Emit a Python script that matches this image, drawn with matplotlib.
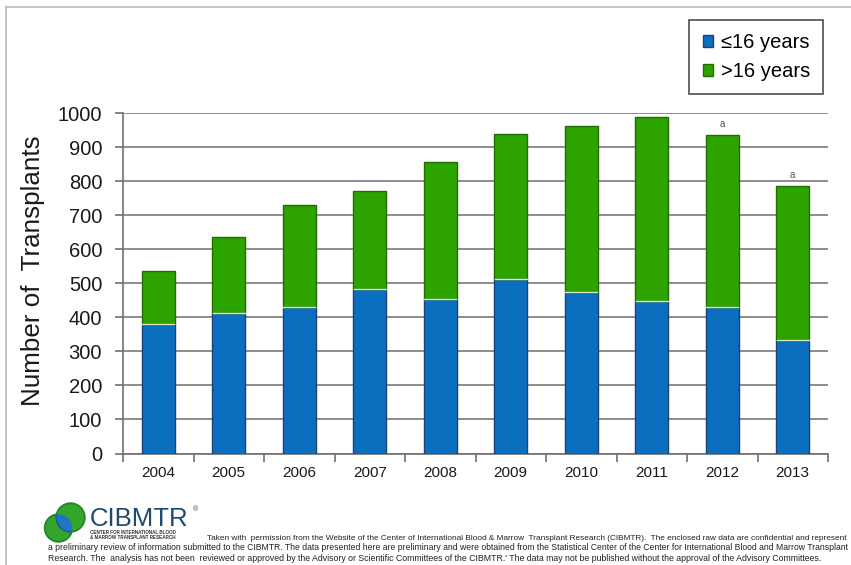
import numpy as np
import matplotlib
matplotlib.use("Agg")
from matplotlib import pyplot as plt
from matplotlib.patches import Patch, Circle
from matplotlib.lines import Line2D

plt.rcParams['font.family'] = ['Liberation Sans', 'DejaVu Sans']

years = ['2004', '2005', '2006', '2007', '2008', '2009', '2010', '2011', '2012', '2013']
young = [380, 414, 430, 484, 454, 513, 474, 448, 431, 335]
totals = [537, 637, 731, 773, 857, 940, 963, 990, 937, 785]
older = [t - y for t, y in zip(totals, young)]
notes = ['', '', '', '', '', '', '', '', 'a', 'a']

blue = '#0B6FBF'
green = '#2DA300'

W, H = 851, 565
fig = plt.figure(figsize=(W / 100, H / 100), dpi=100)
ax = fig.add_axes([123 / W, 1 - 453.5 / H, (828 - 123) / W, (453.5 - 113.3) / H])

x = np.arange(len(years))
ax.bar(x, young, width=0.47, color=blue, edgecolor='#1D3F7A', linewidth=1.0, zorder=3)
ax.bar(x, older, bottom=young, width=0.47, color=green, edgecolor='#1E6E00', linewidth=1.0, zorder=3)
# light seam between segments
for xi, yv in zip(x, young):
    ax.plot([xi - 0.225, xi + 0.225], [yv, yv], color='#D8E8C8', lw=1.0, zorder=4)
for xi, t, n in zip(x, totals, notes):
    if n:
        ax.text(xi, t + 18, n, ha='center', va='bottom', fontsize=7, color='#555555')

ax.set_xlim(-0.5, len(years) - 0.5)
ax.set_ylim(0, 1000)
ax.set_yticks(np.arange(0, 1001, 100))
ax.set_yticklabels([str(v) for v in range(0, 1001, 100)], fontsize=14.5, color='#1a1a1a')
ax.set_xticks(x)
ax.set_xticklabels(years, fontsize=11, color='#1a1a1a')
ax.set_xticks(np.arange(-0.5, len(years), 1), minor=True)
ax.tick_params(axis='x', which='major', length=0, pad=9)
ax.tick_params(axis='x', which='minor', length=6, width=1.2, color='#707070', direction='out')
ax.tick_params(axis='y', length=6, width=1.2, color='#707070', pad=9)
ax.yaxis.grid(True, color='#7a7a7a', linewidth=1.2, zorder=0)
ax.set_axisbelow(True)
for s in ['top', 'right']:
    ax.spines[s].set_visible(False)
for s in ['left', 'bottom']:
    ax.spines[s].set_color('#707070')
    ax.spines[s].set_linewidth(1.2)
ax.set_ylabel('Number of  Transplants', fontsize=18.7, color='#1a1a1a')
ax.yaxis.set_label_coords((45 - 123) / 705, (453.5 - 271) / 340.2)

handles = [Patch(facecolor=blue, edgecolor='#1D3F7A'), Patch(facecolor=green, edgecolor='#1E6E00')]
leg = fig.legend(handles, ['≤16 years', '>16 years'], loc='upper right',
                 bbox_to_anchor=(823 / W, 1 - 20 / H), fontsize=14.5, frameon=True,
                 fancybox=False, handlelength=0.5, handleheight=0.5, handletextpad=0.4,
                 labelspacing=0.5, borderpad=0.65, borderaxespad=0)
leg.get_frame().set_edgecolor('#222222')
leg.get_frame().set_linewidth(1.2)

# slide frame lines
fig.add_artist(Line2D([6 / W, 1], [1 - 7 / H, 1 - 7 / H], color='#bbbbbb', lw=1.2))
fig.add_artist(Line2D([6 / W, 6 / W], [0, 1 - 7 / H], color='#bbbbbb', lw=1.2))

# logo
c1 = Circle((58.5, H - 528), 13.8, transform=None, facecolor='#36A52C', edgecolor='#23862A', lw=1.3)
c2 = Circle((70.5, H - 517.5), 14.3, transform=None, facecolor='#36A52C', edgecolor='#23862A', lw=1.3)
fig.add_artist(c1)
fig.add_artist(c2)
lens = Circle((70.5, H - 517.5), 14.3, transform=None, facecolor='#1F76C2', edgecolor='#1A5FA0', lw=1.0)
fig.add_artist(lens)
lens.set_clip_path(Circle((58.5, H - 528), 13.8, transform=None))

fig.text(90 / W, 1 - 526 / H, 'CIBMTR', fontsize=18.5, color='#1E4A70', va='baseline')
fig.text(193 / W, 1 - 511 / H, '®', fontsize=5, color='#1E4A70')
fig.text(90 / W, 1 - 533.5 / H, 'CENTER FOR INTERNATIONAL BLOOD', fontsize=3.3, weight='bold', color='#333333')
fig.text(90 / W, 1 - 539 / H, '& MARROW TRANSPLANT RESEARCH', fontsize=3.3, weight='bold', color='#333333')

foot = ['Liberation Sans Narrow', 'Liberation Sans', 'DejaVu Sans']
fig.text(207 / W, 1 - 540 / H,
         "Taken with  permission from the Website of the Center of International Blood & Marrow  Transplant Research (CIBMTR).  "
         "The enclosed raw data are confidential and represent",
         fontsize=5.95, family=foot, color='#222222')
fig.text(48 / W, 1 - 550 / H,
         "a preliminary review of information submitted to the CIBMTR. The data presented here are preliminary and were obtained "
         "from the Statistical Center of the Center for International Blood and Marrow Transplant",
         fontsize=6.2, family=foot, color='#222222')
fig.text(48 / W, 1 - 561 / H,
         "Research. The  analysis has not been  reviewed or approved by the Advisory or Scientific Committees of the CIBMTR.' "
         "The data may not be published without the approval of the Advisory Committees.",
         fontsize=6.3, family=foot, color='#222222')

fig.savefig('out.png', dpi=100)
